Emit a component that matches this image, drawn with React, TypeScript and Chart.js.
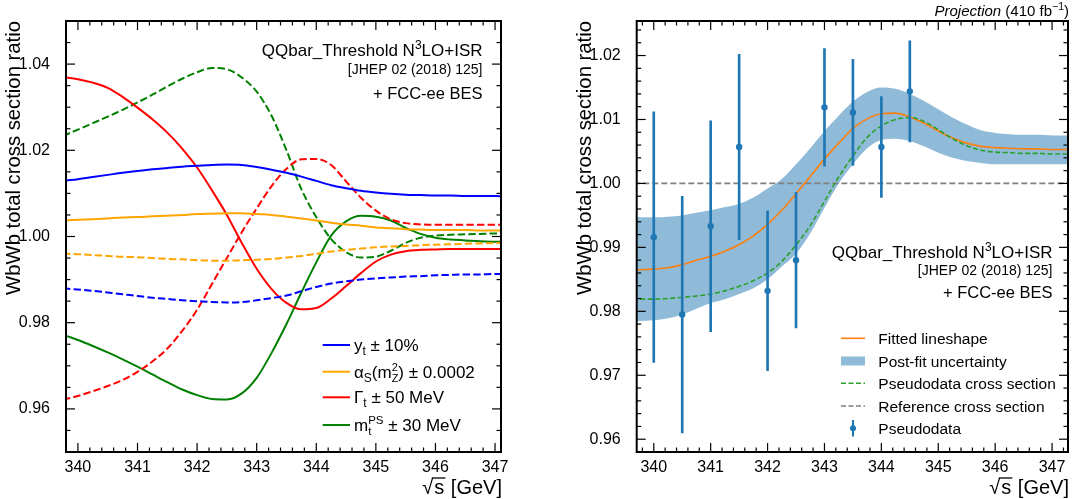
import React, { useEffect, useRef } from 'react';
import { Chart, registerables } from 'chart.js';

Chart.register(...registerables);

const FONT = '"Liberation Sans", Arial, Helvetica, sans-serif';

// ---------- shared x grid (GeV) ----------
const X_GRID = [339.5, 339.75, 340, 340.25, 340.5, 340.75, 341, 341.25, 341.5, 341.75, 342, 342.25, 342.5, 342.75, 343, 343.25, 343.5, 343.75, 344, 344.25, 344.5, 344.75, 345, 345.25, 345.5, 345.75, 346, 346.25, 346.5, 346.75, 347, 347.25, 347.5];

// ---------- left panel: parameter variations ----------
const ytSolid = [1.0124, 1.0129, 1.0133, 1.0138, 1.0143, 1.0148, 1.0152, 1.0156, 1.0159, 1.0162, 1.0164, 1.0166, 1.0167, 1.0166, 1.0161, 1.0155, 1.0148, 1.0139, 1.0129, 1.0119, 1.0112, 1.0106, 1.0102, 1.0099, 1.0097, 1.0096, 1.0095, 1.0095, 1.0094, 1.0094, 1.0094, 1.0093, 1.0093];
const ytDashed = [0.9885, 0.988, 0.9877, 0.9874, 0.987, 0.9866, 0.9862, 0.9858, 0.9855, 0.9852, 0.985, 0.9848, 0.9847, 0.9848, 0.9852, 0.9857, 0.9863, 0.9873, 0.9883, 0.9891, 0.9896, 0.99, 0.9903, 0.9905, 0.9907, 0.9908, 0.991, 0.9911, 0.9912, 0.9912, 0.9913, 0.9913, 0.9914];
const asSolid = [1.0035, 1.0037, 1.0039, 1.004, 1.0042, 1.0044, 1.0045, 1.0047, 1.0048, 1.005, 1.0052, 1.0053, 1.0054, 1.0054, 1.0052, 1.005, 1.0046, 1.0042, 1.0037, 1.0032, 1.0028, 1.0025, 1.0021, 1.0019, 1.0017, 1.0016, 1.0015, 1.0015, 1.0015, 1.0014, 1.0014, 1.0014, 1.0014];
const asDashed = [0.9962, 0.996, 0.9959, 0.9957, 0.9955, 0.9953, 0.9952, 0.995, 0.9948, 0.9947, 0.9945, 0.9944, 0.9944, 0.9945, 0.9946, 0.9948, 0.9951, 0.9955, 0.996, 0.9965, 0.9969, 0.9972, 0.9975, 0.9977, 0.9978, 0.998, 0.9981, 0.9982, 0.9983, 0.9984, 0.9985, 0.9985, 0.9986];
const gtSolid = [1.0375, 1.037, 1.0365, 1.0357, 1.0345, 1.0324, 1.0299, 1.0272, 1.0241, 1.0204, 1.016, 1.0107, 1.005, 0.9985, 0.9925, 0.9878, 0.9846, 0.9831, 0.9834, 0.9856, 0.9885, 0.9915, 0.9942, 0.9958, 0.9966, 0.9969, 0.997, 0.9971, 0.9971, 0.9971, 0.9971, 0.9971, 0.9971];
const gtDashed = [0.9612, 0.9621, 0.963, 0.9641, 0.9653, 0.9667, 0.9686, 0.971, 0.974, 0.9781, 0.983, 0.989, 0.995, 1.001, 1.0065, 1.0117, 1.0157, 1.0179, 1.018, 1.0166, 1.0128, 1.009, 1.006, 1.004, 1.0031, 1.0028, 1.0027, 1.0027, 1.0027, 1.0027, 1.0027, 1.0027, 1.0027];
const mtSolid = [0.9785, 0.9772, 0.976, 0.9746, 0.9731, 0.9715, 0.9698, 0.968, 0.9662, 0.9645, 0.9632, 0.9623, 0.9622, 0.9636, 0.9672, 0.973, 0.9797, 0.987, 0.994, 1.0002, 1.0035, 1.0048, 1.0046, 1.0037, 1.002, 1.0006, 0.9997, 0.9993, 0.9991, 0.9989, 0.9988, 0.9988, 0.9988];
const mtDashed = [1.0222, 1.0234, 1.0248, 1.0263, 1.0278, 1.0294, 1.0311, 1.0329, 1.0348, 1.0366, 1.0381, 1.0391, 1.0388, 1.0369, 1.0336, 1.028, 1.02, 1.011, 1.0045, 0.9994, 0.9964, 0.9951, 0.9953, 0.9967, 0.9985, 0.9997, 1.0002, 1.0004, 1.0005, 1.0006, 1.0007, 1.0007, 1.0008];

// ---------- right panel: fit to pseudodata ----------
const fitLine = [0.9864, 0.9865, 0.9866, 0.9868, 0.9873, 0.988, 0.9886, 0.9894, 0.9904, 0.9918, 0.9936, 0.9958, 0.9984, 1.0011, 1.0038, 1.0063, 1.0086, 1.0101, 1.0109, 1.011, 1.0104, 1.0094, 1.0082, 1.0071, 1.0063, 1.0058, 1.0056, 1.0055, 1.0054, 1.0054, 1.0053, 1.0053, 1.0053];
const pseudoXsec = [0.9818, 0.9819, 0.9819, 0.982, 0.9822, 0.9824, 0.9827, 0.9832, 0.9839, 0.9848, 0.986, 0.9878, 0.9904, 0.9934, 0.9972, 1.001, 1.0043, 1.0072, 1.009, 1.01, 1.0103, 1.0097, 1.0084, 1.007, 1.0059, 1.0052, 1.0049, 1.0048, 1.0047, 1.0047, 1.0046, 1.0046, 1.0046];
const bandUpper = [0.9946, 0.9947, 0.9947, 0.9948, 0.995, 0.9954, 0.9958, 0.9963, 0.9968, 0.9978, 0.9992, 1.0007, 1.003, 1.0055, 1.0082, 1.0106, 1.0128, 1.0143, 1.015, 1.0148, 1.014, 1.0129, 1.0116, 1.0103, 1.0092, 1.0083, 1.0079, 1.0077, 1.0076, 1.0076, 1.0075, 1.0075, 1.0075];
const bandLower = [0.9784, 0.9785, 0.9786, 0.9789, 0.9795, 0.9804, 0.9813, 0.9819, 0.9827, 0.9836, 0.985, 0.987, 0.989, 0.9922, 0.9962, 1.0, 1.003, 1.0055, 1.0068, 1.007, 1.0066, 1.0058, 1.0048, 1.004, 1.0035, 1.0032, 1.003, 1.003, 1.003, 1.003, 1.003, 1.003, 1.003];
const REF_X = [339.5, 347.5];
const REF_Y = [1.0, 1.0];

const pdX = [340, 340.5, 341, 341.5, 342, 342.5, 343, 343.5, 344, 344.5];
const pdY = [0.9916, 0.9795, 0.9933, 1.0057, 0.9832, 0.988, 1.0119, 1.0111, 1.0057, 1.0144];
const pdErr = [0.0196, 0.0185, 0.0165, 0.0145, 0.0125, 0.0106, 0.0092, 0.0083, 0.0079, 0.0079];

// ---------- ticks / ranges ----------
const X_TICKS = [340, 341, 342, 343, 344, 345, 346, 347];
const LEFT_Y_TICKS = [0.96, 0.98, 1.0, 1.02, 1.04];
const RIGHT_Y_TICKS = [0.96, 0.97, 0.98, 0.99, 1.0, 1.01, 1.02];
const LEFT_X_RANGE = [339.8, 347.1];
const LEFT_Y_RANGE = [0.95, 1.05];
const RIGHT_X_RANGE = [339.7, 347.28];
const RIGHT_Y_RANGE = [0.958, 1.0254];

const Y_TITLE = 'WbWb total cross section ratio';

// ---------- rich text helpers ----------
type Seg = { t?: string; size: number; dy?: number; italic?: boolean; sup?: string; sub?: string; supDy?: number; subDy?: number };

function setFont(ctx: CanvasRenderingContext2D, size: number, italic?: boolean) {
  ctx.font = `${italic ? 'italic ' : ''}${size}px ${FONT}`;
}
function segWidth(ctx: CanvasRenderingContext2D, s: Seg) {
  setFont(ctx, s.size, s.italic);
  if (s.sup !== undefined) return Math.max(ctx.measureText(s.sup).width, ctx.measureText(s.sub || '').width);
  return ctx.measureText(s.t || '').width;
}
function drawRich(ctx: CanvasRenderingContext2D, segs: Seg[], x: number, y: number, align: 'left' | 'right') {
  const widths = segs.map((s) => segWidth(ctx, s));
  const total = widths.reduce((a, b) => a + b, 0);
  let cx = align === 'right' ? x - total : x;
  ctx.textAlign = 'left';
  ctx.textBaseline = 'alphabetic';
  ctx.fillStyle = '#000';
  segs.forEach((s, i) => {
    setFont(ctx, s.size, s.italic);
    if (s.sup !== undefined) {
      ctx.fillText(s.sup, cx, y + (s.supDy || 0));
      ctx.fillText(s.sub || '', cx, y + (s.subDy || 0));
    } else {
      ctx.fillText(s.t || '', cx, y + (s.dy || 0));
    }
    cx += widths[i];
  });
}
function drawSqrtTitle(ctx: CanvasRenderingContext2D, right: number, baseline: number) {
  const size = 20;
  setFont(ctx, size);
  ctx.fillStyle = '#000';
  ctx.textAlign = 'left';
  ctx.textBaseline = 'alphabetic';
  const wR = ctx.measureText('√').width;
  const wS = ctx.measureText('s').width;
  const wRest = ctx.measureText(' [GeV]').width;
  const x0 = right - wRest - wS - wR - 1;
  ctx.fillText('√', x0, baseline);
  ctx.fillText('s', x0 + wR + 1, baseline);
  ctx.fillText(' [GeV]', x0 + wR + wS + 2, baseline);
  ctx.strokeStyle = '#000';
  ctx.lineWidth = 1.3;
  ctx.beginPath();
  const oy = baseline - size * 0.8;
  ctx.moveTo(x0 + wR - 1.5, oy);
  ctx.lineTo(x0 + wR + wS + 2, oy);
  ctx.stroke();
}
function drawAnnotation(ctx: CanvasRenderingContext2D, right: number, b1: number, b2: number, b3: number) {
  drawRich(ctx, [{ t: 'QQbar_Threshold N', size: 17 }, { t: '3', size: 12, dy: -7 }, { t: 'LO+ISR', size: 17 }], right, b1, 'right');
  drawRich(ctx, [{ t: '[JHEP 02 (2018) 125]', size: 14 }], right, b2, 'right');
  drawRich(ctx, [{ t: '+ FCC-ee BES', size: 16.5 }], right, b3, 'right');
}

// ---------- frame + inward ticks ----------
function framePlugin(xMinor: number, yMinor: number, xMajor: number[], yMajor: number[]) {
  return {
    id: 'frameTicks',
    afterDatasetsDraw(chart: any) {
      const { ctx, chartArea: a, scales } = chart;
      const xs = scales.x;
      const ys = scales.y;
      ctx.save();
      ctx.strokeStyle = '#000';
      ctx.lineWidth = 1.2;
      const MAJ = 9;
      const MIN = 4.5;
      const isMajor = (v: number, arr: number[]) => arr.some((m) => Math.abs(m - v) < 1e-7);
      const line = (x1: number, y1: number, x2: number, y2: number) => {
        ctx.beginPath();
        ctx.moveTo(x1, y1);
        ctx.lineTo(x2, y2);
        ctx.stroke();
      };
      const xStart = Math.ceil(xs.min / xMinor - 1e-6);
      for (let k = xStart; k * xMinor <= xs.max + 1e-9; k++) {
        const v = Math.round(k * xMinor * 1e6) / 1e6;
        const len = isMajor(v, xMajor) ? MAJ : MIN;
        const px = xs.getPixelForValue(v);
        line(px, a.bottom, px, a.bottom - len);
        line(px, a.top, px, a.top + len);
      }
      const yStart = Math.ceil(ys.min / yMinor - 1e-6);
      for (let k = yStart; k * yMinor <= ys.max + 1e-9; k++) {
        const v = Math.round(k * yMinor * 1e6) / 1e6;
        const len = isMajor(v, yMajor) ? MAJ : MIN;
        const py = ys.getPixelForValue(v);
        line(a.left, py, a.left + len, py);
        line(a.right, py, a.right - len, py);
      }
      ctx.lineWidth = 2;
      ctx.strokeRect(a.left, a.top, a.right - a.left, a.bottom - a.top);
      ctx.restore();
    },
  };
}

function axisOptions(xRange: number[], yRange: number[], yTicks: number[], yWidth: number, yDecimals: number) {
  return {
    x: {
      type: 'linear',
      min: xRange[0],
      max: xRange[1],
      offset: false,
      grid: { display: false, offset: false },
      border: { display: false },
      afterBuildTicks: (axis: any) => {
        axis.ticks = X_TICKS.map((v) => ({ value: v }));
      },
      afterFit: (axis: any) => {
        axis.height = 47;
      },
      ticks: {
        autoSkip: false,
        maxRotation: 0,
        minRotation: 0,
        padding: -2,
        color: '#000',
        font: { family: FONT, size: 16 },
        callback: (v: any) => String(v),
      },
    },
    y: {
      type: 'linear',
      min: yRange[0],
      max: yRange[1],
      grid: { display: false },
      border: { display: false },
      afterBuildTicks: (axis: any) => {
        axis.ticks = yTicks.map((v) => ({ value: v }));
      },
      afterFit: (axis: any) => {
        axis.width = yWidth;
      },
      ticks: {
        autoSkip: false,
        padding: 8,
        color: '#000',
        font: { family: FONT, size: 16 },
        callback: (v: any) => Number(v).toFixed(yDecimals),
      },
      title: {
        display: true,
        text: Y_TITLE,
        align: 'end',
        color: '#000',
        font: { family: FONT, size: 20.3 },
        padding: { top: 2, bottom: 0 },
      },
    },
  };
}

function lineDs(label: string, ys: number[], color: string, dash: number[], width: number, order: number) {
  return {
    type: 'line',
    label,
    data: X_GRID.map((x, i) => ({ x, y: ys[i] })),
    borderColor: color,
    backgroundColor: color,
    borderWidth: width,
    borderDash: dash,
    pointRadius: 0,
    fill: false,
    cubicInterpolationMode: 'monotone',
    order,
  };
}

function leftConfig(): any {
  const dash = [7.4, 3.2];
  const legendPlugin = {
    id: 'leftText',
    afterDraw(chart: any) {
      const ctx = chart.ctx as CanvasRenderingContext2D;
      ctx.save();
      drawAnnotation(ctx, 482.5, 55.7, 73.5, 99);
      const rows: { color: string; y: number; segs: Seg[] }[] = [
        { color: '#0000ff', y: 345, segs: [{ t: 'y', size: 17 }, { t: 't', size: 12, dy: 4 }, { t: ' ± 10%', size: 17 }] },
        {
          color: '#ffa500',
          y: 371.7,
          segs: [
            { t: 'α', size: 17 },
            { t: 'S', size: 12, dy: 4 },
            { t: '(m', size: 17 },
            { size: 11, sup: '2', sub: 'Z', supDy: -7, subDy: 4 },
            { t: ') ± 0.0002', size: 17 },
          ],
        },
        { color: '#ff0000', y: 397.3, segs: [{ t: 'Γ', size: 17 }, { t: 't', size: 12, dy: 4 }, { t: ' ± 50 MeV', size: 17 }] },
        {
          color: '#008000',
          y: 425,
          segs: [{ t: 'm', size: 17 }, { size: 11.5, sup: 'PS', sub: 't', supDy: -7, subDy: 4 }, { t: ' ± 30 MeV', size: 17 }],
        },
      ];
      rows.forEach((r) => {
        ctx.strokeStyle = r.color;
        ctx.lineWidth = 2;
        ctx.setLineDash([]);
        ctx.beginPath();
        ctx.moveTo(322.7, r.y);
        ctx.lineTo(350, r.y);
        ctx.stroke();
        drawRich(ctx, r.segs, 354, r.y + 6, 'left');
      });
      drawSqrtTitle(ctx, chart.chartArea.right, 494);
      ctx.restore();
    },
  };
  return {
    type: 'line',
    data: {
      datasets: [
        lineDs('yt up', ytSolid, '#0000ff', [], 2, 1),
        lineDs('yt down', ytDashed, '#0000ff', dash, 2, 1),
        lineDs('as up', asSolid, '#ffa500', [], 2, 2),
        lineDs('as down', asDashed, '#ffa500', dash, 2, 2),
        lineDs('Gt up', gtSolid, '#ff0000', [], 2, 3),
        lineDs('Gt down', gtDashed, '#ff0000', dash, 2, 3),
        lineDs('mt up', mtSolid, '#008000', [], 2, 4),
        lineDs('mt down', mtDashed, '#008000', dash, 2, 4),
      ],
    },
    options: {
      responsive: false,
      animation: false,
      devicePixelRatio: 1,
      layout: { padding: { left: 0, right: 29, top: 21, bottom: 0 } },
      elements: { line: { capBezierPoints: false } },
      plugins: { legend: { display: false }, tooltip: { enabled: false }, title: { display: false } },
      scales: axisOptions(LEFT_X_RANGE, LEFT_Y_RANGE, LEFT_Y_TICKS, 66, 2),
    },
    plugins: [framePlugin(0.2, 0.005, X_TICKS, LEFT_Y_TICKS), legendPlugin],
  };
}

function rightConfig(): any {
  const textPlugin = {
    id: 'rightText',
    afterDraw(chart: any) {
      const ctx = chart.ctx as CanvasRenderingContext2D;
      ctx.save();
      drawRich(
        ctx,
        [{ t: 'Projection', size: 15, italic: true }, { t: ' (410 fb', size: 15 }, { t: '−1', size: 10.5, dy: -6 }, { t: ')', size: 15 }],
        539,
        15.5,
        'right'
      );
      drawAnnotation(ctx, 522.5, 258.3, 275, 297.5);
      const sx0 = 311;
      const sx1 = 335;
      const tx = 348.3;
      const rowY = [338.3, 361, 383.3, 406, 428.3];
      ctx.setLineDash([]);
      ctx.strokeStyle = '#ff7f0e';
      ctx.lineWidth = 1.6;
      ctx.beginPath();
      ctx.moveTo(sx0, rowY[0]);
      ctx.lineTo(sx1, rowY[0]);
      ctx.stroke();
      ctx.fillStyle = '#8fbbd9';
      ctx.fillRect(sx0, rowY[1] - 4.5, sx1 - sx0, 9);
      ctx.strokeStyle = '#2ca02c';
      ctx.setLineDash([5, 2.5]);
      ctx.beginPath();
      ctx.moveTo(sx0, rowY[2]);
      ctx.lineTo(sx1, rowY[2]);
      ctx.stroke();
      ctx.strokeStyle = '#808080';
      ctx.setLineDash([5, 2.5]);
      ctx.beginPath();
      ctx.moveTo(sx0, rowY[3]);
      ctx.lineTo(sx1, rowY[3]);
      ctx.stroke();
      ctx.setLineDash([]);
      const mx = (sx0 + sx1) / 2;
      ctx.strokeStyle = '#1f77b4';
      ctx.lineWidth = 2;
      ctx.beginPath();
      ctx.moveTo(mx, rowY[4] - 8.3);
      ctx.lineTo(mx, rowY[4] + 8.3);
      ctx.stroke();
      ctx.fillStyle = '#1f77b4';
      ctx.beginPath();
      ctx.arc(mx, rowY[4], 3, 0, Math.PI * 2);
      ctx.fill();
      const labels = ['Fitted lineshape', 'Post-fit uncertainty', 'Pseudodata cross section', 'Reference cross section', 'Pseudodata'];
      labels.forEach((l, i) => drawRich(ctx, [{ t: l, size: 15.5 }], tx, rowY[i] + 5.5, 'left'));
      drawSqrtTitle(ctx, chart.chartArea.right, 494);
      ctx.restore();
    },
  };
  return {
    type: 'line',
    data: {
      datasets: [
        {
          ...lineDs('band upper', bandUpper, '#8fbbd9', [], 0, 9),
          fill: '+1',
          backgroundColor: '#8fbbd9',
        },
        lineDs('band lower', bandLower, '#8fbbd9', [], 0, 8),
        {
          type: 'line',
          label: 'Reference cross section',
          data: REF_X.map((x, i) => ({ x, y: REF_Y[i] })),
          borderColor: '#808080',
          borderWidth: 1.6,
          borderDash: [6, 3],
          pointRadius: 0,
          fill: false,
          order: 7,
        },
        lineDs('Fitted lineshape', fitLine, '#ff7f0e', [], 1.6, 5),
        lineDs('Pseudodata cross section', pseudoXsec, '#2ca02c', [5, 2.5], 1.6, 4),
        {
          type: 'bar',
          label: 'Pseudodata errors',
          data: pdX.map((x, i) => ({ x, y: [pdY[i] - pdErr[i], pdY[i] + pdErr[i]] })),
          backgroundColor: '#1f77b4',
          borderWidth: 0,
          barThickness: 2,
          order: 2,
        },
        {
          type: 'line',
          label: 'Pseudodata',
          data: pdX.map((x, i) => ({ x, y: pdY[i] })),
          showLine: false,
          pointRadius: 3.2,
          pointBackgroundColor: '#1f77b4',
          pointBorderWidth: 0,
          borderColor: '#1f77b4',
          order: 1,
        },
      ],
    },
    options: {
      responsive: false,
      animation: false,
      devicePixelRatio: 1,
      layout: { padding: { left: 41, right: 2.5, top: 21, bottom: 0 } },
      elements: { line: { capBezierPoints: false } },
      plugins: { legend: { display: false }, tooltip: { enabled: false }, title: { display: false } },
      scales: axisOptions(RIGHT_X_RANGE, RIGHT_Y_RANGE, RIGHT_Y_TICKS, 65.7, 2),
    },
    plugins: [framePlugin(0.2, 0.002, X_TICKS, RIGHT_Y_TICKS), textPlugin],
  };
}

export default function App() {
  const leftRef = useRef<HTMLCanvasElement>(null);
  const rightRef = useRef<HTMLCanvasElement>(null);
  useEffect(() => {
    const l = new Chart(leftRef.current as HTMLCanvasElement, leftConfig());
    const r = new Chart(rightRef.current as HTMLCanvasElement, rightConfig());
    return () => {
      l.destroy();
      r.destroy();
    };
  }, []);
  return (
    <div style={{ position: 'absolute', left: 0, top: 0, width: 1072, height: 499, background: '#fff', overflow: 'hidden' }}>
      <canvas ref={leftRef} width={530} height={499} style={{ position: 'absolute', left: 0, top: 0, width: 530, height: 499 }} />
      <canvas ref={rightRef} width={542} height={499} style={{ position: 'absolute', left: 530, top: 0, width: 542, height: 499 }} />
    </div>
  );
}
